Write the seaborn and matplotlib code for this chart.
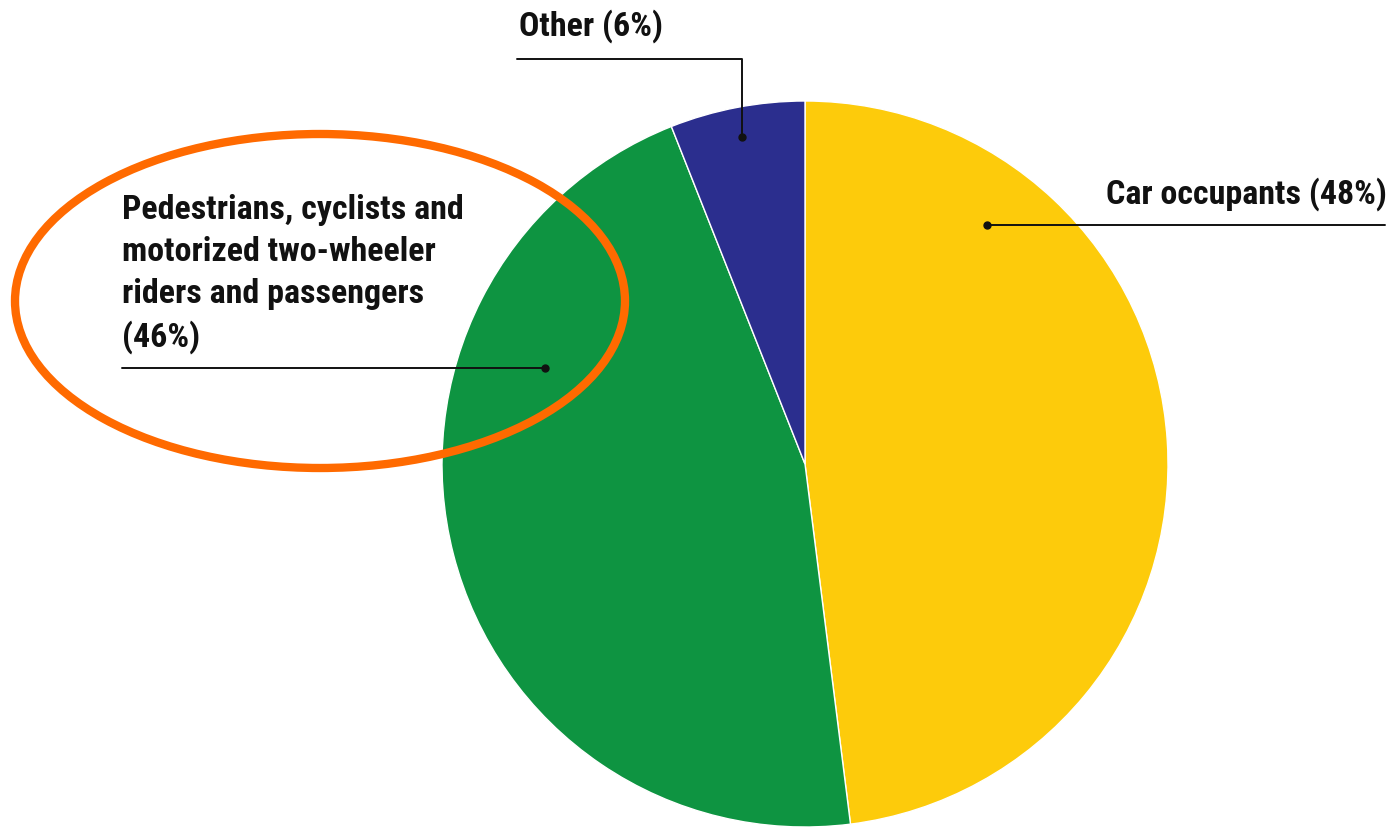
import matplotlib
matplotlib.use("Agg")
import matplotlib.pyplot as plt
from matplotlib.patches import Ellipse
import seaborn as sns

# ---------- DATA ----------
categories = ["Car occupants", "Pedestrians, cyclists and\nmotorized two-wheeler\nriders and passengers", "Other"]
shares = [48, 46, 6]
colors = ["#FDCB0B", "#0E9441", "#2B2E8E"]

# ---------- STYLE ----------
sns.set_theme(style="white")
plt.rcParams["font.family"] = ["Roboto Condensed", "Roboto", "DejaVu Sans"]

W, H = 1395, 829
fig = plt.figure(figsize=(W / 100, H / 100), dpi=100)
ax = fig.add_axes([0, 0, 1, 1])


def py(y):
    # pixel row -> data y
    return H - y


# ---------- PIE ----------
ax.pie(shares, colors=colors, startangle=90, counterclock=False,
       center=(805, py(465)), radius=363, frame=True,
       wedgeprops=dict(edgecolor="white", linewidth=1))
ax.set_xlim(0, W)
ax.set_ylim(0, H)
ax.set_aspect("equal")
ax.axis("off")

# ---------- LABELS ----------
fs = 24.5
txt = dict(fontsize=fs, fontweight="bold", color="#111111")

# car occupants
ax.text(1387, py(194), f"{categories[0]} ({shares[0]}%)", ha="right", va="center", **txt)
ax.plot([987, 1385], [py(226), py(226)], color="#111111", lw=1.4)
ax.plot(987, py(226), "o", color="#111111", ms=5)

# pedestrians
ax.text(122, py(194), f"{categories[1]}\n({shares[1]}%)", ha="left", va="top",
        linespacing=1.4, **txt)
ax.plot([122, 545], [py(369), py(369)], color="#111111", lw=1.4)
ax.plot(545, py(369), "o", color="#111111", ms=5)

# other
ax.text(519, py(26), f"{categories[2]} ({shares[2]}%)", ha="left", va="center", **txt)
ax.plot([517, 742, 742], [py(60), py(60), py(138)], color="#111111", lw=1.4)
ax.plot(742, py(138), "o", color="#111111", ms=5)

# ---------- HIGHLIGHT ----------
ax.add_patch(Ellipse((320, py(302)), 610, 334, fill=False, edgecolor="#FF6A00", lw=6))

plt.savefig("out.png", dpi=100)
